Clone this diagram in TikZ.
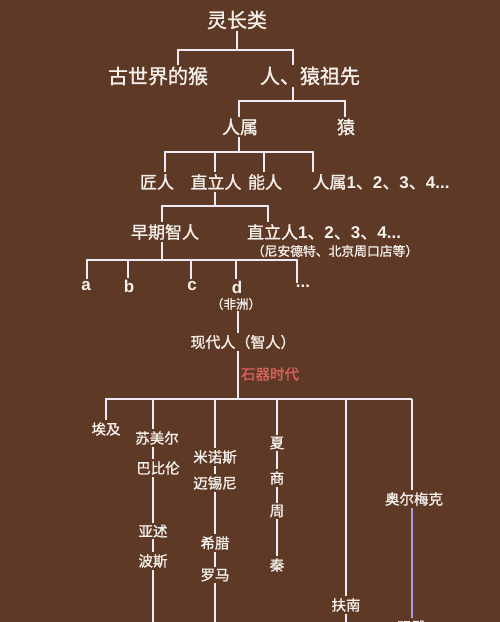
\documentclass[tikz,border=0pt]{standalone}
\usepackage{fontspec}
\setmainfont{Noto Sans CJK SC}[FakeBold=1.2]
\newfontfamily\lat{Liberation Sans}
\usetikzlibrary{backgrounds}
\definecolor{bg}{RGB}{94,58,38}
\definecolor{fg}{RGB}{245,240,235}
\definecolor{ln}{RGB}{238,234,246}
\definecolor{lav}{RGB}{170,156,236}
\definecolor{redt}{RGB}{222,98,94}
\newcommand\latb[1]{{\lat\bfseries #1}}
\begin{document}
\begin{tikzpicture}[x=1pt,y=-1pt,
  lbl/.style={fill=bg,text=fg,inner sep=2pt},
  fA/.style={lbl,font=\fontsize{20}{22}\selectfont},
  fB/.style={lbl,font=\fontsize{18}{20}\selectfont},
  fC/.style={lbl,font=\fontsize{17}{19}\selectfont},
  fD/.style={lbl,font=\fontsize{14.5}{16}\selectfont},
  fS/.style={lbl,font=\fontsize{12.8}{14}\selectfont},
  fL/.style={lbl,font=\lat\bfseries\fontsize{17}{19}\selectfont},
  conn/.style={draw=ln,line width=1.8pt},
  connv/.style={draw=lav,line width=2pt}]
\useasboundingbox (0,0) rectangle (500,622);

% nodes
\node[fA] (root) at (237,20) {灵长类};
\node[fA] (gsj) at (158,76) {古世界的猴};
\node[fA] (rzy) at (310,76) {人、猿祖先};
\node[fB] (rs) at (240,127) {人属};
\node[fB] (yuan) at (346,127) {猿};
\node[fC] (jr) at (157,182) {匠人};
\node[fC] (zlr) at (216,182) {直立人};
\node[fC] (nr) at (265,182) {能人};
\node[fC] (rs1) at (381,182) {人属\latb{1}、\latb{2}、\latb{3}、\latb{4...}};
\node[fC] (zqzr) at (165,232) {早期智人};
\node[fC] (zlr1) at (324,232) {直立人\latb{1}、\latb{2}、\latb{3}、\latb{4...}};
\node[fS,inner sep=0pt] (nad) at (335,251) {（尼安德特、北京周口店等）};
\node[fL] (na) at (86,286) {a};
\node[fL] (nb) at (129,286) {b};
\node[fL] (nc) at (192,286) {c};
\node[fL] (nd) at (237,287) {d};
\node[fL] (ne) at (303,286) {...};
\node[lbl,font=\fontsize{12.5}{13}\selectfont,inner sep=1pt] (fz) at (236,304) {（非洲）};
\node[lbl,font=\fontsize{15}{17}\selectfont] (xdr) at (243,342) {现代人（智人）};
\node[fD,text=redt] (sq) at (270,374) {石器时代};
\node[fD] (aiji) at (106,429) {埃及};
\node[fD] (smr) at (157,438) {苏美尔};
\node[fD] (bbl) at (158,468) {巴比伦};
\node[fD] (ys) at (153,531) {亚述};
\node[fD] (bs) at (153,561) {波斯};
\node[fD] (mns) at (215,457) {米诺斯};
\node[fD] (mxn) at (215,483) {迈锡尼};
\node[fD] (xl) at (215,543) {希腊};
\node[fD] (lm) at (215,575) {罗马};
\node[fD] (xia) at (277,443) {夏};
\node[fD] (shang) at (277,478) {商};
\node[fD] (zhou) at (277,511) {周};
\node[fD] (qin) at (277,565) {秦};
\node[fD] (fn) at (346,605) {扶南};
\node[fD] (aemk) at (414,499) {奥尔梅克};
\node[fD] (my) at (412,627) {玛雅};

% junction coordinates
\coordinate (b1l) at (178,50);  \coordinate (b1r) at (293,50);
\coordinate (b2l) at (239,101); \coordinate (b2r) at (345,101);
\coordinate (b3a) at (165,152); \coordinate (b3b) at (215,152);
\coordinate (b3c) at (264,152); \coordinate (b3d) at (313,152);
\coordinate (b4l) at (162,206); \coordinate (b4r) at (268,206);
\coordinate (b5a) at (87,260);  \coordinate (b5b) at (128,260);
\coordinate (b5c) at (191,260); \coordinate (b5d) at (236,260);
\coordinate (b5e) at (297,260);
\coordinate (b6a) at (106,399); \coordinate (b6b) at (153,399);
\coordinate (b6c) at (215,399); \coordinate (b6d) at (277,399);
\coordinate (b6e) at (346,399); \coordinate (b6f) at (412,399);
\coordinate (b7) at (238,0);
\coordinate (bot) at (0,640);

\begin{pgfonlayer}{background}
\fill[bg] (0,0) rectangle (500,622);
% level 1
\draw[conn] (root) -- (root |- b1l);
\draw[conn] (gsj -| b1l) -- (b1l) -- (b1r) -- (rzy -| b1r);
% level 2
\draw[conn] (rzy -| b1r) -- (b1r |- b2l);
\draw[conn] (rs -| b2l) -- (b2l) -- (b2r) -- (yuan -| b2r);
% level 3
\draw[conn] (rs -| b2l) -- (b2l |- b3a);
\draw[conn] (jr -| b3a) -- (b3a) -- (b3d) -- (rs1 -| b3d);
\draw[conn] (b3b) -- (zlr -| b3b);
\draw[conn] (b3c) -- (nr -| b3c);
% level 4
\draw[conn] (zlr -| b3b) -- (b3b |- b4l);
\draw[conn] (zqzr -| b4l) -- (b4l) -- (b4r) -- (zlr1 -| b4r);
% level 5
\draw[conn] (zqzr -| b4l) -- (b4l |- b5a);
\draw[conn] (na -| b5a) -- (b5a) -- (b5e) -- (ne -| b5e);
\draw[conn] (b5b) -- (nb -| b5b);
\draw[conn] (b5c) -- (nc -| b5c);
\draw[conn] (b5d) -- (nd -| b5d);
% modern humans
\draw[conn] (fz -| b7) -- (xdr -| b7) -- (b7 |- b6a);
\draw[conn] (aiji -| b6a) -- (b6a) -- (b6f);
\draw[conn] (b6b) -- (b6b |- bot);
\draw[conn] (b6c) -- (b6c |- bot);
\draw[conn] (b6d) -- (qin -| b6d);
\draw[conn] (b6e) -- (b6e |- bot);
\draw[conn] (b6f) -- (aemk -| b6f);
\draw[connv] (aemk -| b6f) -- (my -| b6f);
\end{pgfonlayer}
\end{tikzpicture}
\end{document}
